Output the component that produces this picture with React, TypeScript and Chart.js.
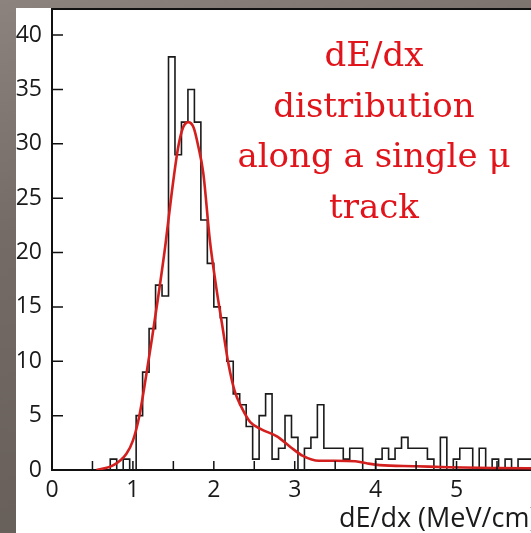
import React, { useEffect, useRef } from "react";
import { Chart, registerables } from "chart.js";

Chart.register(...registerables);

// Histogram: bins of width 0.08 MeV/cm starting at 0.72
const binStart = 0.72;
const binWidth = 0.08;
const binCounts = [
  1, 0, 1, 0, 5, 9, 13, 17, 16, 38, 29, 32, 35, 32, 23, 19, 15, 14, 10, 7,
  6, 4, 1, 5, 7, 1, 2, 5, 3, 0, 2, 3, 6, 2, 2, 2, 1, 2, 2, 0,
  0, 1, 2, 1, 2, 3, 2, 2, 2, 1, 0, 3, 0, 1, 2, 2, 0, 2, 0, 1,
  0, 1, 0, 1, 1, 1,
];

// Fitted curve (red)
const fitX = [0.55, 0.76, 0.92, 1.0, 1.08, 1.16, 1.24, 1.32, 1.4, 1.48, 1.56, 1.62, 1.685, 1.75, 1.81, 1.87, 1.95, 2.03, 2.1, 2.18, 2.26, 2.34, 2.45, 2.6, 2.78, 2.95, 3.1, 3.3, 3.5, 3.75, 3.9, 4.05, 4.5, 4.9, 5.5, 6.0, 6.6];
const fitY = [0, 0.45, 1.5, 2.7, 5.0, 8.5, 12.3, 16.3, 20.6, 25.5, 29.7, 31.5, 32.0, 31.5, 29.7, 27.3, 21.2, 16.8, 13.5, 9.8, 7.2, 5.8, 4.4, 3.7, 3.1, 2.1, 1.3, 0.85, 0.85, 0.8, 0.6, 0.45, 0.35, 0.25, 0.18, 0.15, 0.12];

const xMin = 0;
const xMax = 6.6;
const yMin = 0;
const yMax = 42.4;
const xTickValues = [0, 0.5, 1, 1.5, 2, 2.5, 3, 3.5, 4, 4.5, 5, 5.5, 6, 6.5];
const yTickValues = [0, 5, 10, 15, 20, 25, 30, 35, 40];

const annotationLines = ["dE/dx", "distribution", "along a single μ", "track"];
const xTitle = "dE/dx (MeV/cm)";

const innerTicks = {
  id: "innerTicks",
  afterDatasetsDraw(chart: any) {
    const { ctx, chartArea, scales } = chart;
    ctx.save();
    ctx.strokeStyle = "#111";
    ctx.lineWidth = 1.5;
    ctx.beginPath();
    scales.x.ticks.forEach((t: any) => {
      if (t.value <= 0) return;
      const px = scales.x.getPixelForValue(t.value);
      ctx.moveTo(px, chartArea.bottom);
      ctx.lineTo(px, chartArea.bottom - 9);
    });
    scales.y.ticks.forEach((t: any) => {
      if (t.value <= 0) return;
      const py = scales.y.getPixelForValue(t.value);
      ctx.moveTo(chartArea.left, py);
      ctx.lineTo(chartArea.left + 11, py);
    });
    ctx.stroke();
    ctx.lineWidth = 2;
    ctx.beginPath();
    ctx.moveTo(chartArea.left - 1, chartArea.top);
    ctx.lineTo(chartArea.right, chartArea.top);
    ctx.stroke();
    ctx.restore();
  },
};

export default function App() {
  const ref = useRef<HTMLCanvasElement | null>(null);

  useEffect(() => {
    if (!ref.current) return;
    const histPoints: { x: number; y: number }[] = [{ x: binStart, y: 0 }];
    binCounts.forEach((c, i) => histPoints.push({ x: binStart + i * binWidth, y: c }));
    histPoints.push({ x: binStart + binCounts.length * binWidth, y: 0 });

    const tickFont = { family: "'Open Sans', sans-serif", size: 23 };

    const chart = new Chart(ref.current, {
      type: "scatter",
      data: {
        datasets: [
          {
            data: fitX.map((x, i) => ({ x, y: fitY[i] })),
            showLine: true,
            borderColor: "#d41f1f",
            borderWidth: 2.6,
            pointRadius: 0,
            cubicInterpolationMode: "monotone",
            fill: false,
          } as any,
          {
            data: histPoints,
            showLine: true,
            stepped: "before",
            borderColor: "#1a1a1a",
            borderWidth: 1.6,
            pointRadius: 0,
            fill: false,
          } as any,
        ],
      },
      options: {
        animation: false,
        responsive: false,
        maintainAspectRatio: false,
        devicePixelRatio: 1,
        layout: { padding: { top: 1, left: 0, right: 0, bottom: 0 } },
        plugins: { legend: { display: false }, tooltip: { enabled: false } },
        scales: {
          x: {
            type: "linear",
            min: xMin,
            max: xMax,
            grid: { display: true, drawOnChartArea: false, drawTicks: false },
            border: { display: true, color: "#111", width: 2 },
            ticks: {
              autoSkip: false,
              maxRotation: 0,
              padding: 7,
              color: "#1a1a1a",
              font: tickFont,
              callback: (v: any) => (Number.isInteger(Number(v)) ? String(v) : ""),
            },
            afterBuildTicks: (s: any) => {
              s.ticks = xTickValues.map((v) => ({ value: v }));
            },
            afterFit: (s: any) => {
              s.height = 63;
              s.paddingLeft = 0;
              s.paddingRight = 0;
            },
          },
          y: {
            type: "linear",
            min: yMin,
            max: yMax,
            grid: { display: true, drawOnChartArea: false, drawTicks: false },
            border: { display: true, color: "#111", width: 2 },
            ticks: {
              autoSkip: false,
              padding: 10,
              color: "#1a1a1a",
              font: tickFont,
            },
            afterBuildTicks: (s: any) => {
              s.ticks = yTickValues.map((v) => ({ value: v }));
            },
            afterFit: (s: any) => {
              s.width = 36;
              s.paddingTop = 0;
              s.paddingBottom = 0;
            },
          },
        },
      },
      plugins: [innerTicks],
    });
    return () => chart.destroy();
  }, []);

  return (
    <div
      style={{
        position: "fixed",
        left: 0,
        top: 0,
        width: 531,
        height: 533,
        overflow: "hidden",
        background: "linear-gradient(165deg, #8d837e 0%, #746b66 35%, #625a55 100%)",
      }}
    >
      <div
        style={{
          position: "absolute",
          left: 16,
          top: 8,
          width: 515,
          height: 525,
          background: "#ffffff",
          overflow: "hidden",
        }}
      >
        <canvas
          ref={ref}
          width={570}
          height={525}
          style={{ position: "absolute", left: 0, top: 0, width: 570, height: 525 }}
        />
        <div
          style={{
            position: "absolute",
            left: 208,
            top: 21,
            width: 300,
            textAlign: "center",
            fontFamily: "'DejaVu Serif', serif",
            fontSize: 34,
            lineHeight: "50.5px",
            color: "#e0141a",
            whiteSpace: "nowrap",
          }}
        >
          {annotationLines.map((l, i) => (
            <div key={i}>{l}</div>
          ))}
        </div>
        <div
          style={{
            position: "absolute",
            left: 323,
            top: 495,
            fontFamily: "'Open Sans', sans-serif",
            fontSize: 27,
            lineHeight: "27px",
            color: "#1a1a1a",
            whiteSpace: "nowrap",
          }}
        >
          {xTitle}
        </div>
      </div>
    </div>
  );
}
